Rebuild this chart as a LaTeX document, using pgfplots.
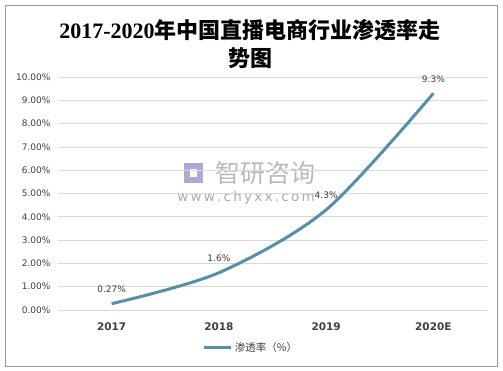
\documentclass[border=0pt]{standalone}
\usepackage{pgfplots}
\pgfplotsset{compat=1.18}
\usepackage{fontspec}
\setmainfont{DejaVu Sans}
\newfontfamily\cjk{Noto Sans CJK SC}
\newfontfamily\serifnum{Liberation Serif}
\definecolor{lineblue}{HTML}{5690A8}
\definecolor{gridgray}{HTML}{D9D9D9}
\definecolor{txtgray}{HTML}{404040}
\begin{document}
\begin{tikzpicture}[x=1pt,y=1pt]
% page and border
\fill[white] (-58,-60) rectangle (445,310);
\draw[draw=gray!80, line width=0.8pt] (-53,-56) rectangle (439,305);
% title
\node[font=\bfseries\fontsize{22}{26}\selectfont, anchor=center] at (192,280) {{\serifnum\bfseries 2017-2020}{\cjk\bfseries 年中国直播电商行业渗透率走}};
\node[font=\cjk\bfseries\fontsize{22}{26}\selectfont, anchor=center] at (192,252) {势图};
% watermark
\fill[blue!30!gray!50] (126,127) rectangle (145,147);
\fill[white] (132,133) rectangle (139,141);
\node[text=gray!55, font=\cjk\fontsize{25}{28}\selectfont, anchor=center] at (207,137) {智研咨询};
\node[text=gray!65, font=\fontsize{13.5}{16}\selectfont, anchor=center] at (188,112) {w\,w\,w\,.\,c\,h\,y\,x\,x\,.\,c\,o\,m};
\begin{axis}[
  at={(0,0)}, anchor=south west,
  scale only axis, width=429pt, height=233pt,
  xmin=-0.5, xmax=3.5, ymin=0, ymax=10,
  xtick={0,1,2,3}, xticklabels={2017,2018,2019,2020E},
  ytick={0,1,...,10},
  /pgf/number format/assume math mode=true,
  yticklabel={\pgfmathprintnumber[fixed,fixed zerofill,precision=2,assume math mode=true]{\tick}\%},
  yticklabel style={font=\fontsize{9}{10}\selectfont, text=txtgray, xshift=-4pt},
  xticklabel style={font=\bfseries\fontsize{10.5}{12}\selectfont, text=txtgray, yshift=-9pt},
  ymajorgrids, grid style={gridgray, line width=0.8pt},
  axis line style={draw=none}, major tick style={draw=none},
  legend style={at={(0.45,-0.12)}, anchor=north, draw=none, fill=none,
    font=\cjk\fontsize{10.5}{12}\selectfont, text=txtgray,
    legend cell align=left},
  legend image code/.code={\draw[#1, line width=3pt] (0pt,0pt) -- (27pt,0pt);},
  clip=false,
]
\addplot[color=lineblue, line width=3pt, smooth, tension=0.5,
  nodes near coords, point meta=explicit symbolic,
  every node near coord/.style={font=\fontsize{9}{10}\selectfont, text=txtgray, anchor=south, yshift=6pt}]
  table[meta=lab] {
x y lab
0 0.27 0.27\%
1 1.6 1.6\%
2 4.3 4.3\%
3 9.3 9.3\%
};
\addlegendentry{渗透率（\%）}
\end{axis}
\end{tikzpicture}
\end{document}
